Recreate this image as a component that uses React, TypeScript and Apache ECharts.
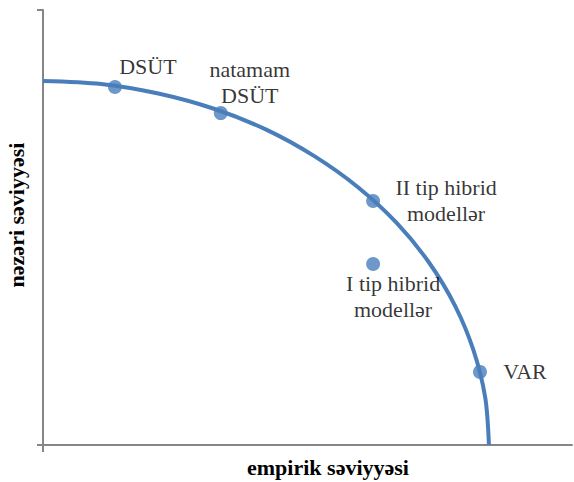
import React, { useEffect, useRef } from "react";
import * as echarts from "echarts";

// Curve (frontier) points: [empirik, nəzəri]
const curveX = [0, 1.1, 2.18, 3.23, 4.22, 5.13, 5.96, 6.69, 7.3, 7.79, 8.14, 8.36, 8.43];
const curveY = [8.37, 8.3, 8.08, 7.73, 7.25, 6.64, 5.92, 5.1, 4.19, 3.2, 2.17, 1.09, 0];

// Labelled points
const pointNames = ["DSÜT", "natamam\nDSÜT", "II tip hibrid\nmodellər", "I tip hibrid\nmodellər", "VAR"];
const pointX = [1.36, 3.36, 6.24, 6.24, 8.26];
const pointY = [8.23, 7.63, 5.61, 4.16, 1.68];

const xTitle = "empirik səviyyəsi";
const yTitle = "nəzəri səviyyəsi";

const labelOffsets: [number, number][] = [
  [33, -20],
  [29, -31],
  [73, 0],
  [20, 32],
  [45, 0],
];

export default function App() {
  const ref = useRef<HTMLDivElement>(null);
  useEffect(() => {
    if (!ref.current) return;
    const chart = echarts.init(ref.current, null, { renderer: "svg" });
    const font = "'Liberation Serif', 'Times New Roman', Times, serif";
    const blue = "#4A7EBB";
    const axisColor = "#868686";
    const labelStyle = {
      show: true,
      color: "#000",
      fontFamily: font,
      fontSize: 22,
      lineHeight: 26,
      align: "center",
      verticalAlign: "middle",
      position: "inside",
    };
    chart.setOption({
      animation: false,
      textStyle: { fontFamily: font },
      grid: { left: 43, right: 2, top: 10, bottom: 37, containLabel: false },
      xAxis: {
        type: "value",
        min: 0,
        max: 10,
        interval: 10,
        axisLine: { show: true, lineStyle: { color: axisColor, width: 2 } },
        axisTick: { show: true, length: 7, customValues: [0], lineStyle: { color: axisColor, width: 2 } },
        axisLabel: { show: false },
        splitLine: { show: false },
      },
      yAxis: {
        type: "value",
        min: 0,
        max: 10,
        interval: 10,
        axisLine: { show: true, lineStyle: { color: axisColor, width: 2 } },
        axisTick: { show: true, length: 6, lineStyle: { color: axisColor, width: 2 } },
        axisLabel: { show: false },
        splitLine: { show: false },
      },
      graphic: [
        {
          type: "text",
          x: 328,
          y: 467,
          style: {
            text: xTitle,
            fontFamily: font,
            fontWeight: "bold",
            fontSize: 22,
            fill: "#000",
            textAlign: "center",
            textVerticalAlign: "middle",
          },
        },
        {
          type: "text",
          x: 16,
          y: 215,
          rotation: Math.PI / 2,
          style: {
            text: yTitle,
            fontFamily: font,
            fontWeight: "bold",
            fontSize: 22,
            fill: "#000",
            textAlign: "center",
            textVerticalAlign: "middle",
          },
        },
      ],
      series: [
        {
          type: "line",
          data: curveX.map((x, i) => [x, curveY[i]]),
          smooth: 0.3,
          showSymbol: false,
          symbol: "none",
          lineStyle: { color: blue, width: 4 },
          z: 2,
        },
        {
          type: "scatter",
          data: pointX.map((x, i) => ({
            value: [x, pointY[i]],
            name: pointNames[i],
            label: { ...labelStyle, offset: labelOffsets[i], formatter: pointNames[i] },
          })),
          symbol: "circle",
          symbolSize: 14,
          itemStyle: { color: blue },
          label: labelStyle,
          z: 3,
        },
      ],
    });
    return () => chart.dispose();
  }, []);
  return (
    <div
      ref={ref}
      style={{ position: "absolute", left: 0, top: 0, width: 574, height: 482 }}
    />
  );
}
